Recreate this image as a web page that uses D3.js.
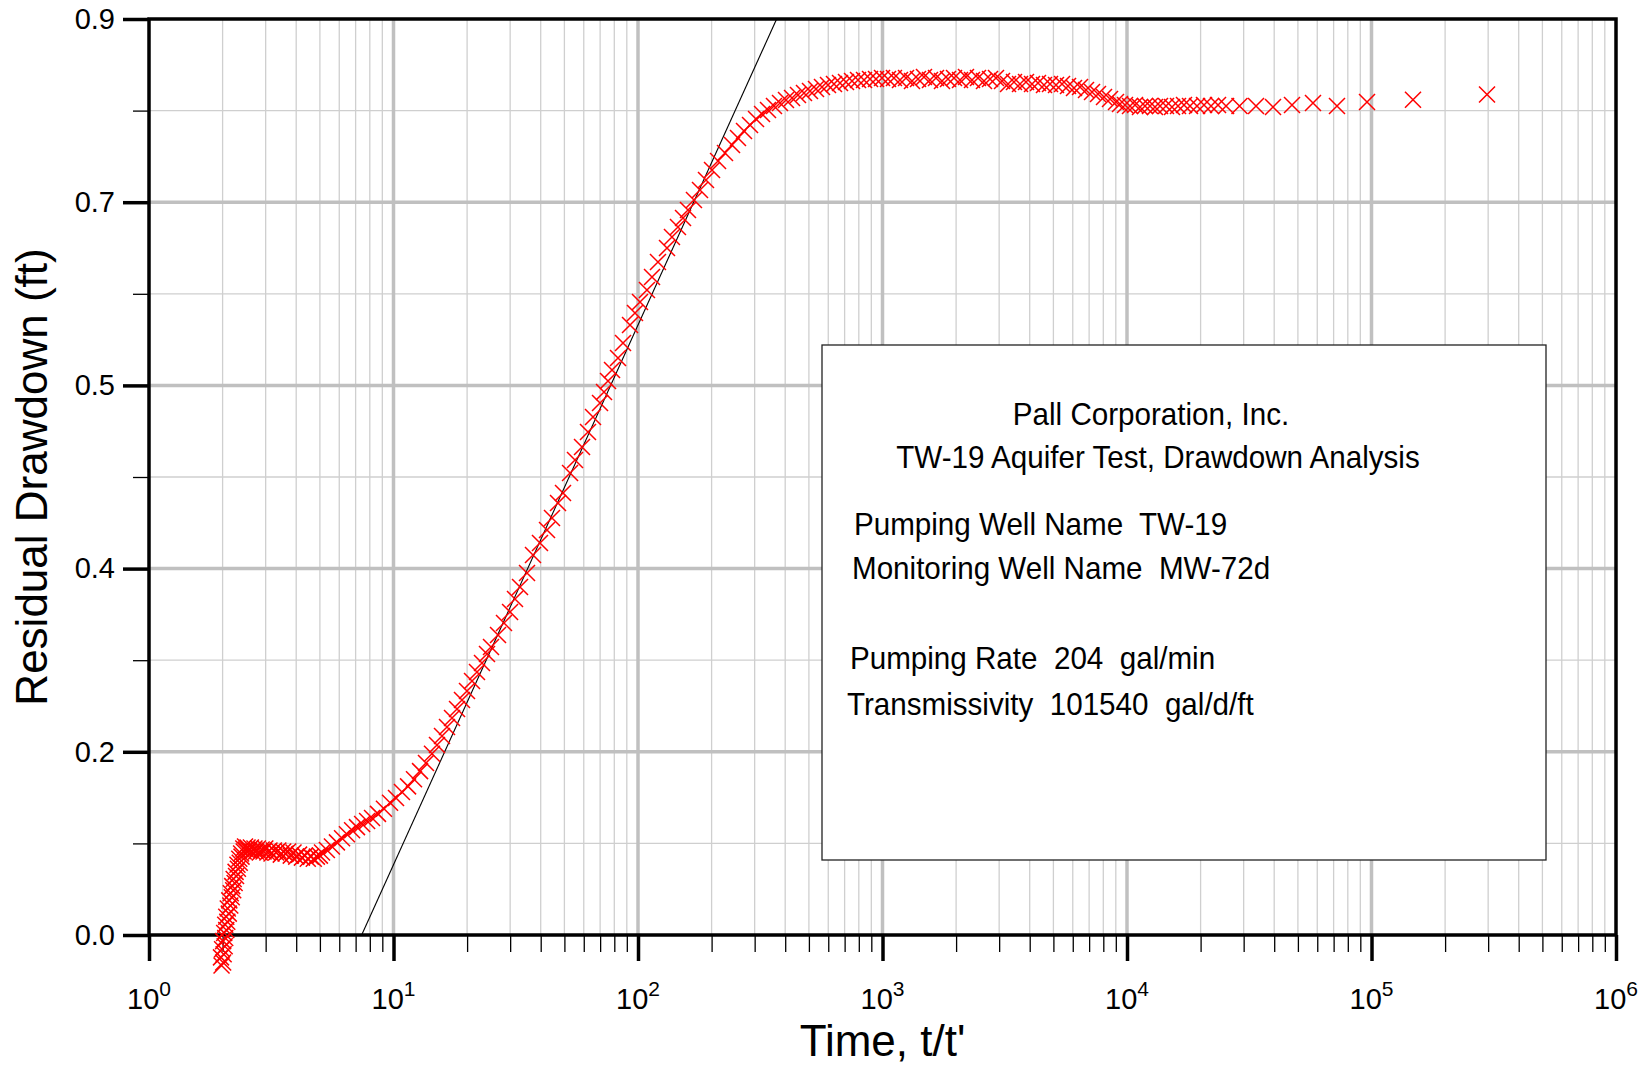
<!DOCTYPE html>
<html>
<head>
<meta charset="utf-8">
<script src="https://cdn.jsdelivr.net/npm/d3@7"></script>
<style>
body { margin: 0; background: #fff; }
svg { display: block; font-family: "Liberation Sans", Arial, sans-serif; }
</style>
</head>
<body>
<svg width="1647" height="1067"></svg>
<script>
// t/t' (x) and residual drawdown in ft (y)
var timeRatio = [
  1.98, 2.01, 1.97, 2.02, 1.99, 2.04, 2.01, 2.05, 2.03, 2.07, 2.05, 2.09, 2.07, 2.12, 2.10, 2.15, 2.13, 2.18,
  2.16, 2.21, 2.19, 2.24, 2.22, 2.27, 2.26, 2.31, 2.30, 2.35, 2.34, 2.39, 2.38, 2.44, 2.43, 2.49, 2.47,
  2.53, 2.57, 2.61, 2.65, 2.70, 2.74, 2.79, 2.84, 2.89, 2.94, 2.99, 3.05, 3.11, 3.17, 3.24, 3.31, 3.38,
  3.46, 3.54, 3.62, 3.71, 3.80, 3.90, 4.00, 4.11, 4.22, 4.34, 4.46, 4.59, 4.72, 4.86, 5.00,
  5.10, 5.34, 5.60, 5.87, 6.16, 6.45, 6.77, 7.09, 7.44, 7.80, 8.17, 8.64, 9.14, 9.68, 10.24, 10.83,
  11.47, 12.13, 12.84, 13.58, 14.37,
  15.06, 15.79, 16.55, 17.35, 18.19, 19.06, 19.98, 20.95, 21.95, 23.01, 24.12, 25.05, 26.76, 28.31,
  29.97, 31.40, 32.92, 35.16, 37.20, 39.73, 42.45, 44.49, 47.08, 49.35, 52.73, 55.25, 59.02, 62.44,
  65.46, 69.93, 72.61, 75.40, 78.30, 82.84, 86.84, 92.76, 97.21, 101.9, 108.8, 114.1, 120.7, 131.4,
  137.7, 145.7, 152.8, 160.1, 169.4, 179.3, 189.7, 200.8, 212.5, 226.9,
  242.4, 256.4, 271.4, 287.2, 303.9, 321.6, 340.2, 359.9, 380.9, 403.0, 426.6, 451.1, 477.4, 505.2,
  534.6, 565.6, 598.5, 633.3, 670.2, 709.1, 750.5, 794.0, 840.2, 889.1, 940.6, 995.4, 1053, 1114,
  1179, 1248, 1320, 1397, 1478, 1564, 1655, 1751, 1853, 1961, 2075, 2195, 2323, 2458, 2601, 2753,
  2912, 3082, 3261, 3450, 3651, 3863, 4088, 4325, 4576, 4843, 5124, 5423, 5738, 6071, 6425, 6797,
  7193, 7610, 8053, 8522, 9016, 9362, 9813,
  10287, 10783, 11302, 11847, 12419, 13015, 13646, 14437, 15276, 16166, 17105, 18100, 19337, 20651,
  22062, 23566, 25415, 28850, 33700, 39550, 47300, 57640, 72250, 95860, 147800, 296800
];
var drawdown = [
  -0.030, -0.027, -0.022, -0.019, -0.014, -0.011, -0.006, -0.003, 0.002, 0.005, 0.010, 0.013, 0.018,
  0.021, 0.026, 0.029, 0.034, 0.037, 0.041, 0.044, 0.048, 0.051, 0.055, 0.058, 0.062, 0.065, 0.069,
  0.071, 0.075, 0.077, 0.080, 0.082, 0.085, 0.084, 0.087,
  0.086, 0.083, 0.086, 0.082, 0.085, 0.082, 0.085, 0.081, 0.084, 0.082, 0.085, 0.081, 0.083, 0.080,
  0.083, 0.081, 0.083, 0.079, 0.082, 0.080, 0.082, 0.078, 0.081, 0.077, 0.079, 0.076, 0.078, 0.075,
  0.077, 0.075, 0.077, 0.078,
  0.081, 0.0835, 0.087, 0.091, 0.095, 0.099, 0.103, 0.106, 0.109, 0.112, 0.115, 0.119, 0.124, 0.130,
  0.1346, 0.1405, 0.146, 0.153, 0.161, 0.169, 0.178,
  0.1867, 0.1955, 0.2044, 0.2132, 0.2220, 0.2309, 0.2397, 0.2496, 0.2584, 0.2672, 0.2761, 0.2830,
  0.2948, 0.3065, 0.3174, 0.3301, 0.3419, 0.3557, 0.3734, 0.3851, 0.3979, 0.4097, 0.4244, 0.4343,
  0.4539, 0.4667, 0.4795, 0.4942, 0.5089, 0.5227, 0.5335, 0.5443, 0.5551, 0.5669, 0.5817, 0.5993,
  0.6111, 0.6219, 0.6337, 0.6465, 0.6612, 0.6750, 0.6858, 0.6956, 0.7045, 0.7124, 0.7222, 0.7320,
  0.7418, 0.7516, 0.7605, 0.7684,
  0.7762, 0.7831, 0.7899, 0.7958, 0.8017, 0.8066, 0.8106, 0.8145, 0.8174, 0.8204, 0.8224, 0.8253,
  0.8273, 0.8292, 0.8312, 0.8332, 0.8351, 0.8361, 0.8371, 0.8381, 0.8391, 0.8400, 0.8400, 0.8410,
  0.8410, 0.8420, 0.8410, 0.8420,
  0.8400, 0.8420, 0.8391, 0.8410, 0.8430, 0.8400, 0.8420, 0.8391, 0.8410, 0.8420, 0.8400, 0.8430,
  0.8400, 0.8420, 0.8391, 0.8410, 0.8420, 0.8391, 0.8361, 0.8381, 0.8361, 0.8381, 0.8361, 0.8371,
  0.8351, 0.8361, 0.8351, 0.8361, 0.8342, 0.8322, 0.8332, 0.8302, 0.8283, 0.8263, 0.8234, 0.8214,
  0.8184, 0.8165, 0.8155,
  0.8145, 0.8155, 0.8135, 0.8145, 0.8145, 0.8135, 0.8145, 0.8145, 0.8135, 0.8145, 0.8155, 0.8145,
  0.8145, 0.8155, 0.8145, 0.8155, 0.8145, 0.8145, 0.8145, 0.8135, 0.8155, 0.8174, 0.8145, 0.8184,
  0.8206, 0.8258
];

// straight line fit (Cooper-Jacob), two end points
var fitTime = [7.41, 369];
var fitDrawdown = [0, 0.9];

var yMajor = [0, 0.18, 0.36, 0.54, 0.72, 0.9];
var yTickLabels = ["0.0", "0.2", "0.4", "0.5", "0.7", "0.9"];
var yMinor = [0.09, 0.27, 0.45, 0.63, 0.81];
var xExponents = [0, 1, 2, 3, 4, 5, 6];

var boxLines = [
  "Pall Corporation, Inc.",
  "TW-19 Aquifer Test, Drawdown Analysis",
  "Pumping Well Name  TW-19",
  "Monitoring Well Name  MW-72d",
  "Pumping Rate  204  gal/min",
  "Transmissivity  101540  gal/d/ft"
];

var svg = d3.select("svg");
// plot frame (px)
var pLeft = 149, pRight = 1616, pTop = 19, pBottom = 935;

var x = d3.scaleLog().domain([1, 1e6]).range([pLeft, pRight]);
var y = d3.scaleLinear().domain([0, 0.9]).range([pBottom, pTop]);

// minor/major decade values for the log grid
var xMinor = [], xMajor = xExponents.map(e => Math.pow(10, e));
xExponents.slice(0, 6).forEach(function(e) {
  for (var m = 2; m <= 9; m++) xMinor.push(m * Math.pow(10, e));
});

var grid = svg.append("g");
grid.selectAll(".vmin").data(xMinor).enter().append("line")
  .attr("x1", d => x(d)).attr("x2", d => x(d))
  .attr("y1", pTop).attr("y2", pBottom)
  .attr("stroke", "#cfcfcf").attr("stroke-width", 1.3);
grid.selectAll(".hmin").data(yMinor).enter().append("line")
  .attr("x1", pLeft).attr("x2", pRight)
  .attr("y1", d => y(d)).attr("y2", d => y(d))
  .attr("stroke", "#cfcfcf").attr("stroke-width", 1.3);
grid.selectAll(".vmaj").data(xMajor.slice(1, 6)).enter().append("line")
  .attr("x1", d => x(d)).attr("x2", d => x(d))
  .attr("y1", pTop).attr("y2", pBottom)
  .attr("stroke", "#c0c0c0").attr("stroke-width", 3.5);
grid.selectAll(".hmaj").data(yMajor.slice(1, 5)).enter().append("line")
  .attr("x1", pLeft).attr("x2", pRight)
  .attr("y1", d => y(d)).attr("y2", d => y(d))
  .attr("stroke", "#c0c0c0").attr("stroke-width", 3.5);

// ticks
var xMinorAxis = svg.append("g")
  .attr("transform", `translate(0,${pBottom})`)
  .call(d3.axisBottom(x).tickValues(xMinor).tickSize(17).tickFormat(""));
var xMajorAxis = svg.append("g")
  .attr("transform", `translate(0,${pBottom})`)
  .call(d3.axisBottom(x).tickValues(xMajor).tickSize(26).tickFormat(""));
xMinorAxis.selectAll("line").attr("stroke-width", 1.3);
xMajorAxis.selectAll("line").attr("stroke-width", 3.5);

var yMinorAxis = svg.append("g")
  .attr("transform", `translate(${pLeft},0)`)
  .call(d3.axisLeft(y).tickValues(yMinor).tickSize(16).tickFormat(""));
var yMajorAxis = svg.append("g")
  .attr("transform", `translate(${pLeft},0)`)
  .call(d3.axisLeft(y).tickValues(yMajor).tickSize(26).tickPadding(8)
    .tickFormat((d, i) => yTickLabels[i]));
yMinorAxis.selectAll("line").attr("stroke-width", 1.3);
yMajorAxis.selectAll("line").attr("stroke-width", 3.5);
yMajorAxis.selectAll("text").attr("font-size", 29).attr("font-family", null);
svg.selectAll(".domain").remove();

svg.append("rect")
  .attr("x", pLeft).attr("y", pTop)
  .attr("width", pRight - pLeft).attr("height", pBottom - pTop)
  .attr("fill", "none").attr("stroke", "#000").attr("stroke-width", 3.5);

// 10^n labels
var xLab = svg.append("g").selectAll("text").data(xExponents).enter().append("text")
  .attr("x", d => x(Math.pow(10, d)))
  .attr("y", 1009)
  .attr("text-anchor", "middle")
  .attr("font-size", 29);
xLab.append("tspan").text("10");
xLab.append("tspan").attr("dy", -13).attr("font-size", 21).text(d => d);

// axis titles
svg.append("text")
  .attr("x", (pLeft + pRight) / 2).attr("y", 1056)
  .attr("text-anchor", "middle").attr("font-size", 44)
  .text("Time, t/t'");
svg.append("text")
  .attr("transform", `translate(47,${(pTop + pBottom) / 2}) rotate(-90)`)
  .attr("text-anchor", "middle").attr("font-size", 44)
  .text("Residual Drawdown (ft)");

// info box
svg.append("rect")
  .attr("x", 822).attr("y", 345).attr("width", 724).attr("height", 515)
  .attr("fill", "#fff").attr("stroke", "#222").attr("stroke-width", 1.3);
// text is a bit narrow in the original, so squeeze it horizontally
var linePos = [[1151, 425, "middle"], [1158, 468, "middle"], [854, 535, "start"],
               [852, 579, "start"], [850, 669, "start"], [847, 715, "start"]];
svg.append("g").selectAll("text").data(boxLines).enter().append("text")
  .attr("transform", (d, i) => `translate(${linePos[i][0]},${linePos[i][1]}) scale(0.94,1)`)
  .attr("text-anchor", (d, i) => linePos[i][2])
  .attr("font-size", 31.5)
  .style("white-space", "pre")
  .text(d => d);

// fitted straight line
svg.append("line")
  .attr("x1", x(fitTime[0])).attr("y1", y(fitDrawdown[0]))
  .attr("x2", x(fitTime[1])).attr("y2", y(fitDrawdown[1]))
  .attr("stroke", "#000").attr("stroke-width", 1.1);

// data markers (x shaped)
var pts = timeRatio.map((t, i) => ({t: t, s: drawdown[i]}));
svg.append("g").selectAll("path").data(pts).enter().append("path")
  .attr("transform", d => `translate(${x(d.t)},${y(d.s)})`)
  .attr("d", "M-8,-8L8,8M-8,8L8,-8")
  .attr("stroke", "#ff0000").attr("stroke-width", 1.5).attr("fill", "none");
</script>
</body>
</html>
